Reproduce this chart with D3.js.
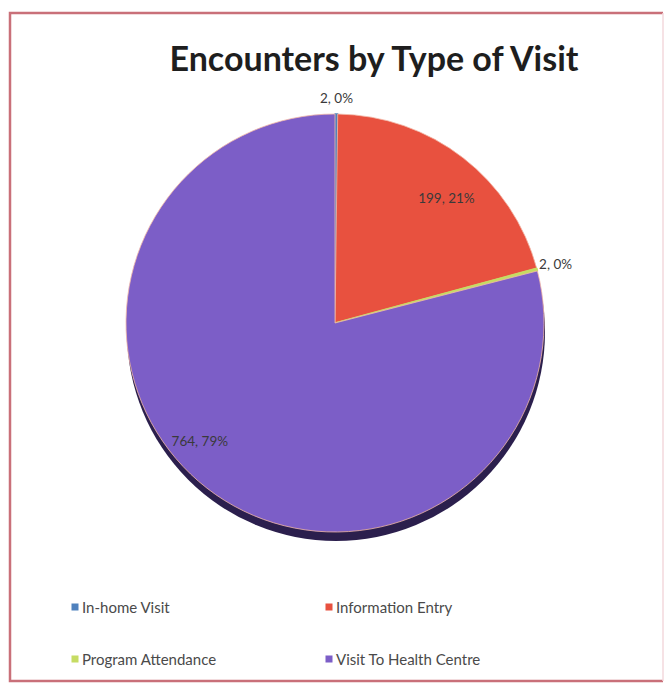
<!DOCTYPE html>
<html>
<head>
<meta charset="utf-8">
<script src="https://cdn.jsdelivr.net/npm/d3@7"></script>
<style>
  html, body { margin: 0; padding: 0; background: #ffffff; }
  svg { display: block; }
</style>
</head>
<body>
<svg id="chart" width="668" height="684"></svg>
<script>
// Encounters by type of visit
const categories = ["In-home Visit", "Information Entry", "Program Attendance", "Visit To Health Centre"];
const counts = [2, 199, 2, 764];
const percentLabels = ["0%", "21%", "0%", "79%"];
const colors = ["#4f81bd", "#e8513f", "#c6dc63", "#7c5ec7"];

const W = 668, H = 684;
const svg = d3.select("#chart");
const font = "Lato, 'Open Sans', 'Liberation Sans', sans-serif";

// outer frame
const frame = svg.append("g");
frame.append("rect").attr("x", 0).attr("y", 0).attr("width", W).attr("height", H).attr("fill", "#ffffff");
frame.append("path")
  .attr("d", `M663,13 L10,13 L10,681 L663,681`)
  .attr("fill", "none").attr("stroke", "#c97079").attr("stroke-width", 2.5);
frame.append("line").attr("x1", 663).attr("y1", 13).attr("x2", 663).attr("y2", 681)
  .attr("stroke", "#f3d8dc").attr("stroke-width", 1.5);

// title
svg.append("text")
  .attr("x", 374).attr("y", 71)
  .attr("text-anchor", "middle")
  .attr("font-family", font).attr("font-weight", 700).attr("font-size", 34)
  .attr("fill", "#1e1e1e")
  .text("Encounters by Type of Visit");

// pie
const cx = 335, cy = 323, R = 209;
const data = categories.map((c, i) => ({ name: c, value: counts[i], pct: percentLabels[i], color: colors[i] }));
const pie = d3.pie().value(d => d.value).sort(null);
const arcs = pie(data);
const arc = d3.arc().innerRadius(0).outerRadius(R);

const g = svg.append("g").attr("transform", `translate(${cx},${cy})`);

// depth edge under the disc
g.append("ellipse")
  .attr("cx", 1).attr("cy", 9).attr("rx", R).attr("ry", R)
  .attr("fill", "#2b1f4d");

g.selectAll("path.slice")
  .data(arcs)
  .join("path")
  .attr("class", "slice")
  .attr("d", arc)
  .attr("fill", d => d.data.color)
  .attr("stroke", d => d.data.value < 10 ? d.data.color : "#f2b9a8")
  .attr("stroke-width", d => d.data.value < 10 ? 1.6 : 0.8)
  .attr("stroke-linejoin", "round");

// data labels: large slices inside, small slices just outside the rim
const labelLayout = [
  { radius: R + 16, turn: 0, anchor: "middle" },
  { radius: R * 0.8, turn: 4, anchor: "middle" },
  { radius: R + 24, turn: 0, anchor: "start" },
  { radius: R * 0.86, turn: 11, anchor: "middle" }
];
g.selectAll("text.dlabel")
  .data(arcs)
  .join("text")
  .attr("class", "dlabel")
  .each(function (d, i) {
    const L = labelLayout[i];
    const a = (d.startAngle + d.endAngle) / 2 + L.turn * Math.PI / 180;
    let x = Math.sin(a) * L.radius;
    const y = -Math.cos(a) * L.radius;
    if (L.anchor === "start") x = Math.sin(a) * R + 2;
    d3.select(this)
      .attr("x", x).attr("y", y)
      .attr("text-anchor", L.anchor)
      .attr("dominant-baseline", "central");
  })
  .attr("font-family", font).attr("font-size", 13.5)
  .attr("fill", "#3a3a3a")
  .text(d => `${d.data.value}, ${d.data.pct}`);

// legend (two columns, two rows)
const legendX = d3.scalePoint().domain([0, 1]).range([75, 329]);
const legendY = d3.scalePoint().domain([0, 1]).range([607, 659]);
const leg = svg.append("g");
data.forEach((d, i) => {
  const col = i % 2, row = Math.floor(i / 2);
  const item = leg.append("g").attr("transform", `translate(${legendX(col)},${legendY(row)})`);
  item.append("rect").attr("x", -3.5).attr("y", -3.5).attr("width", 7).attr("height", 7).attr("fill", d.color);
  item.append("text")
    .attr("x", 7).attr("y", 0)
    .attr("dominant-baseline", "central")
    .attr("font-family", font).attr("font-size", 15)
    .attr("fill", "#4a4a4a")
    .text(d.name);
});
</script>
</body>
</html>
